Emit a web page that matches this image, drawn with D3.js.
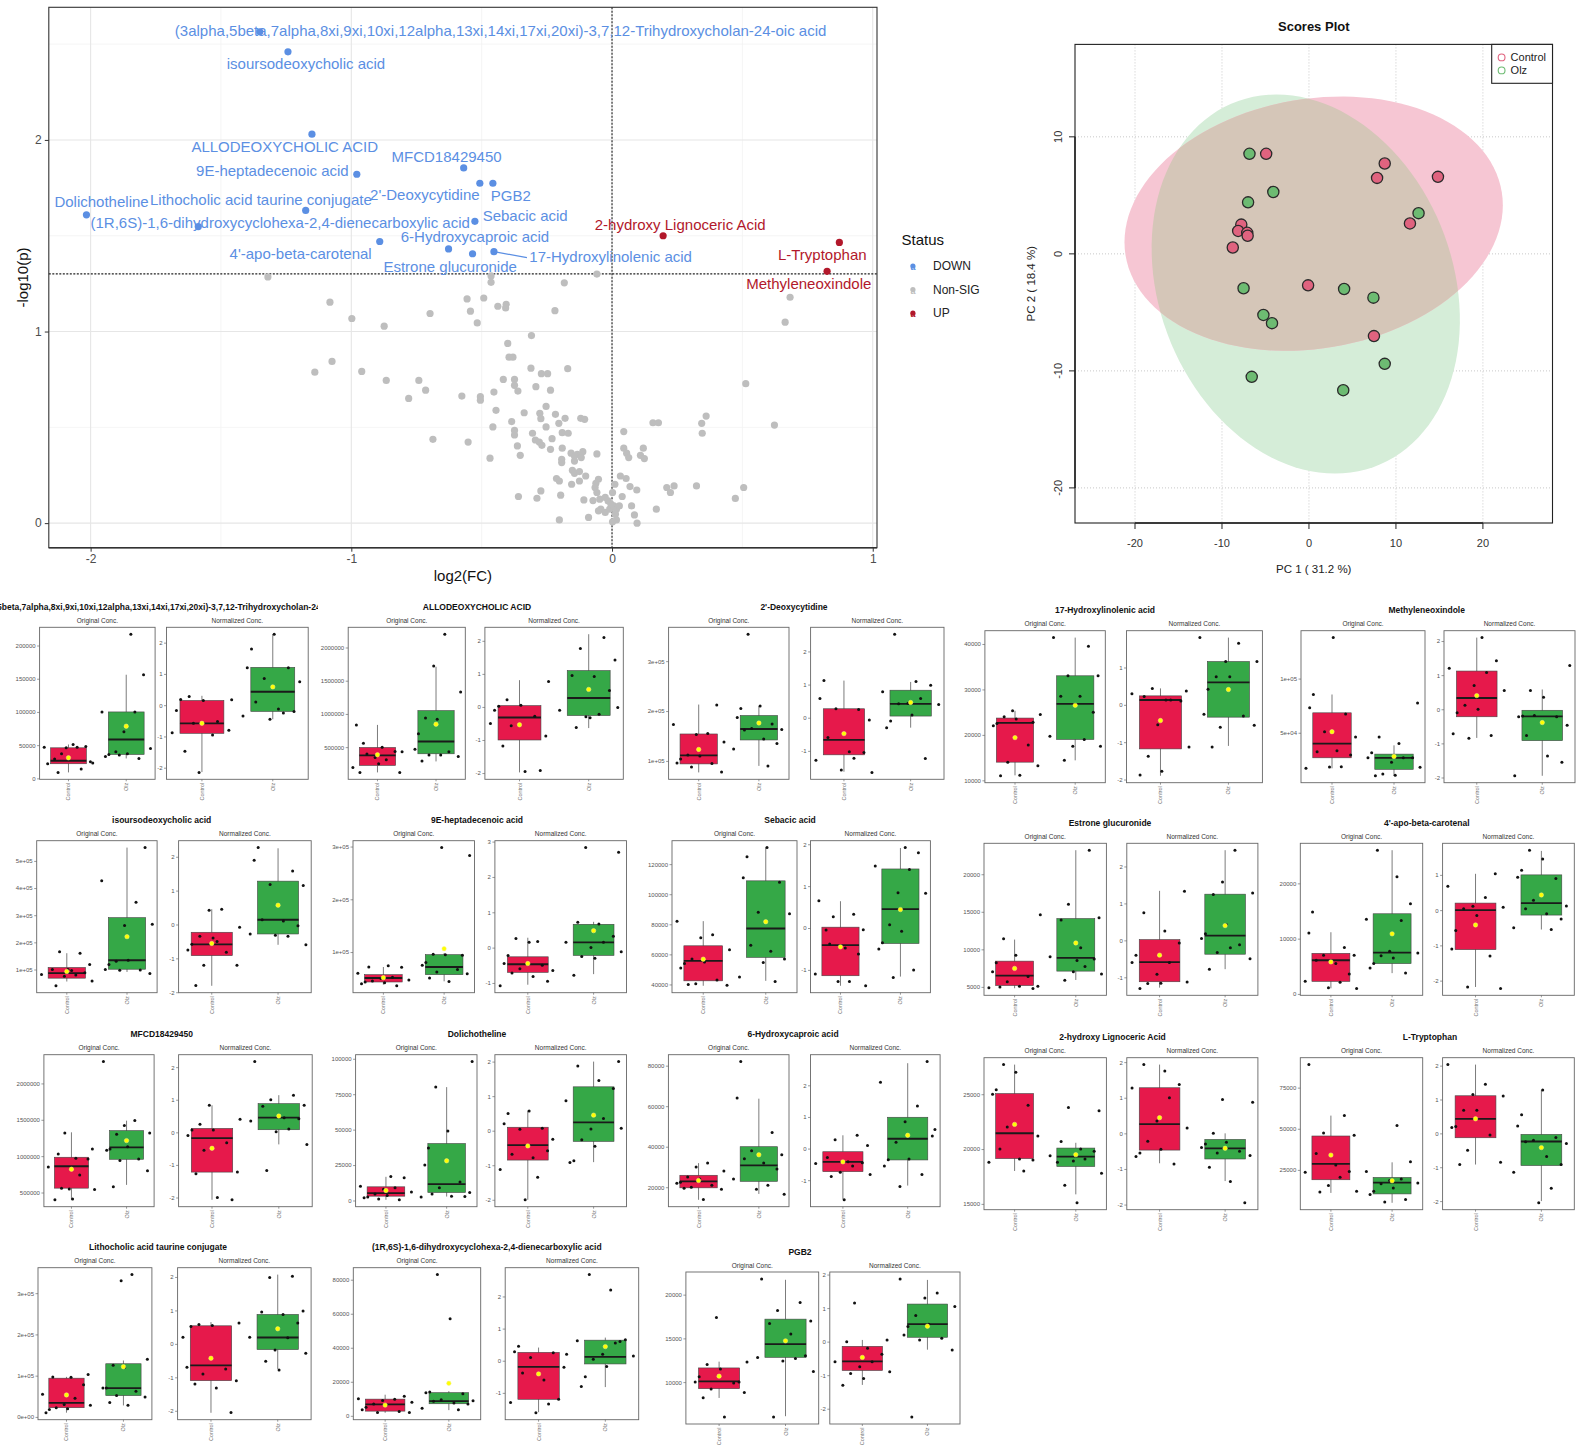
<!DOCTYPE html>
<html>
<head>
<meta charset="utf-8">
<title>Volcano plot, PCA scores and box plots</title>
<script src="https://d3js.org/d3.v7.min.js"></script>
<style>
  body { margin: 0; background: #fff; }
  svg { display: block; font-family: "Liberation Sans", Arial, Helvetica, sans-serif; }
</style>
</head>
<body>
<svg id="fig" width="1586" height="1448"></svg>
<script>
// ---------------- volcano data ----------------
const sigNames = [
  "(3alpha,5beta,7alpha,8xi,9xi,10xi,12alpha,13xi,14xi,17xi,20xi)-3,7,12-Trihydroxycholan-24-oic acid",
  "isoursodeoxycholic acid", "ALLODEOXYCHOLIC ACID", "9E-heptadecenoic acid", "MFCD18429450",
  "2'-Deoxycytidine", "PGB2", "Dolichotheline", "Lithocholic acid taurine conjugate",
  "(1R,6S)-1,6-dihydroxycyclohexa-2,4-dienecarboxylic acid", "Sebacic acid", "4'-apo-beta-carotenal",
  "6-Hydroxycaproic acid", "Estrone glucuronide", "17-Hydroxylinolenic acid",
  "2-hydroxy Lignoceric Acid", "L-Tryptophan", "Methyleneoxindole"];
const sigFC = [-1.351,-1.243,-1.151,-0.979,-0.569,-0.507,-0.457,-2.016,-1.175,-1.587,-0.526,-0.891,-0.627,-0.535,-0.453,0.196,0.872,0.825];
const sigP  = [2.564,2.46,2.03,1.821,1.854,1.774,1.774,1.609,1.632,1.548,1.575,1.470,1.431,1.406,1.417,1.5,1.465,1.314];
const sigStatus = ["DOWN","DOWN","DOWN","DOWN","DOWN","DOWN","DOWN","DOWN","DOWN","DOWN","DOWN","DOWN","DOWN","DOWN","DOWN","UP","UP","UP"];
const nonSig = [
  [-1.32,1.285],[-0.464,1.29],[-0.464,1.257],[-0.183,1.254],[-0.058,1.30],[0.683,1.179],[-1.082,1.153],[-0.556,1.170],
  [-0.492,1.175],[-0.543,1.106],[-0.438,1.132],[-0.406,1.142],[-0.408,1.123],[-0.698,1.094],[-0.219,1.109],[-0.998,1.068],
  [-0.874,1.028],[-0.517,1.045],[0.664,1.049],[-0.309,0.979],[-0.40,0.938],[-0.395,0.866],[-0.38,0.866],[-1.074,0.844],
  [-1.14,0.788],[-0.96,0.792],[-0.866,0.745],[-0.741,0.745],[-0.715,0.694],[-0.78,0.651],[-0.576,0.663],[-0.505,0.66],
  [-0.505,0.642],[-0.453,0.684],[-0.417,0.75],[-0.374,0.75],[-0.374,0.719],[-0.361,0.689],[-0.311,0.809],[-0.271,0.78],
  [-0.247,0.78],[-0.17,0.806],[-0.292,0.712],[-0.236,0.694],[-0.445,0.589],[-0.253,0.609],[-0.337,0.576],[-0.277,0.573],
  [-0.273,0.545],[-0.217,0.568],[-0.18,0.547],[-0.12,0.547],[-0.105,0.542],[-0.385,0.53],[-0.457,0.502],[-0.374,0.484],
  [-0.374,0.46],[-0.253,0.502],[-0.204,0.521],[-0.305,0.469],[-0.191,0.472],[-0.168,0.469],[-0.23,0.441],[-0.294,0.434],
  [-0.279,0.423],[-0.269,0.406],[-0.363,0.403],[-0.236,0.385],[-0.191,0.391],[-0.687,0.4375],[-0.552,0.423],[-0.468,0.339],
  [-0.352,0.354],[-0.157,0.365],[-0.133,0.359],[-0.112,0.373],[-0.193,0.333],[-0.193,0.316],[-0.144,0.35],[-0.144,0.324],
  [-0.118,0.342],[-0.058,0.361],[0.045,0.478],[0.045,0.391],[0.056,0.365],[0.064,0.342],[0.12,0.391],[0.109,0.354],
  [0.124,0.337],[0.157,0.524],[0.178,0.524],[0.344,0.521],[0.361,0.559],[0.346,0.469],[0.513,0.728],[0.623,0.512],
  [-0.152,0.276],[-0.144,0.26],[-0.125,0.269],[-0.101,0.246],[-0.213,0.233],[-0.202,0.22],[-0.155,0.203],[-0.125,0.22],
  [-0.052,0.229],[-0.062,0.208],[-0.065,0.186],[-0.058,0.16],[0.011,0.203],[0.002,0.16],[0.032,0.246],[0.054,0.233],
  [0.069,0.191],[0.095,0.173],[-0.273,0.168],[-0.359,0.139],[-0.288,0.13],[-0.197,0.146],[-0.108,0.121],[-0.073,0.118],
  [-0.047,0.125],[-0.026,0.134],[0.039,0.139],[-0.043,0.073],[-0.052,0.064],[-0.026,0.056],[-0.009,0.073],[0.007,0.09],
  [0.017,0.073],[0.028,0.09],[-0.015,0.116],[-0.004,0.099],[0.075,0.09],[0.086,0.043],[0.013,0.047],[0.017,0.017],
  [0.002,0.007],[-0.09,0.03],[-0.202,0.017],[0.096,0.0],[0.17,0.073],[0.21,0.186],[0.224,0.16],[0.238,0.194],
  [0.324,0.194],[0.505,0.186],[0.473,0.129]];
const statusLevels = ["DOWN", "Non-SIG", "UP"];
const statusColors = {"DOWN": "#5b8fe3", "Non-SIG": "#bebebe", "UP": "#b2182b"};
const volXMajor = [-2, -1, 0, 1], volXMinor = [-1.5, -0.5, 0.5];
const volYMajor = [0, 1, 2], volYMinor = [0.5, 1.5, 2.5];
const pThreshold = 0.05;

// label offsets from their point, in pixels (layout only)
const labelOffsets = [[240.8,-1.7],[18,11.6],[-27.2,12.4],[-84.4,-3.6],[-17.1,-11.3],[-55,11.7],[17.9,12.4],[15.1,-13.3],
  [-44.8,-10.7],[81.9,-4],[50.3,-5.7],[-79.1,11.6],[26.4,-12],[-22.4,12.7],[116.7,5.3],[17.1,-11],[-17.1,12.3],[-18.3,12.3]];

// ---------------- PCA data ----------------
const pcaCtrlX = [-4.92,8.71,7.83,14.83,11.61,-7.78,-8.14,-7.1,-7.05,-8.76,-0.10,7.47];
const pcaCtrlY = [8.55,7.72,6.49,6.58,2.6,2.5,1.96,1.8,1.55,0.54,-2.69,-7.03];
const pcaOlzX = [-6.84,-4.10,-7.0,12.6,-7.52,4.04,7.41,-5.24,-4.25,8.71,-6.58,3.94];
const pcaOlzY = [8.55,5.29,4.40,3.48,-2.94,-3.0,-3.74,-5.22,-5.92,-9.40,-10.51,-11.65];
// ellipse: centre x, centre y, then two conjugate semi-diameters (dx1, dy1, dx2, dy2)
const ctrlEllipse = [0.54, 2.58, 21.75, 1.58, 0, 10.75];
const olzEllipse = [-0.37, -2.58, -3.36, 16.2, 17.4, 0];
const pcaXLim = [-26.9, 28.0], pcaYLim = [-23.0, 17.9];
const pcaXTicks = [-20, -10, 0, 10, 20], pcaYTicks = [-20, -10, 0, 10];

// ---------------- box plot data ----------------
const groups = ["Control", "Olz"];
const compounds = [
  "(3alpha,5beta,7alpha,8xi,9xi,10xi,12alpha,13xi,14xi,17xi,20xi)-3,7,12-Trihydroxycholan-24-oic acid",
  "ALLODEOXYCHOLIC ACID", "2'-Deoxycytidine", "17-Hydroxylinolenic acid", "Methyleneoxindole",
  "isoursodeoxycholic acid", "9E-heptadecenoic acid", "Sebacic acid", "Estrone glucuronide", "4'-apo-beta-carotenal",
  "MFCD18429450", "Dolichotheline", "6-Hydroxycaproic acid", "2-hydroxy Lignoceric Acid", "L-Tryptophan",
  "Lithocholic acid taurine conjugate", "(1R,6S)-1,6-dihydroxycyclohexa-2,4-dienecarboxylic acid", "PGB2"];
const origTicks = [
  ["0","50000","100000","150000","200000"], ["500000","1000000","1500000","2000000"], ["1e+05","2e+05","3e+05"],
  ["10000","20000","30000","40000"], ["5e+04","1e+05"], ["1e+05","2e+05","3e+05","4e+05","5e+05"],
  ["1e+05","2e+05","3e+05"], ["40000","60000","80000","100000","120000"], ["5000","10000","15000","20000"],
  ["0","10000","20000"], ["500000","1000000","1500000","2000000"], ["0","25000","50000","75000","100000"],
  ["20000","40000","60000","80000"], ["15000","20000","25000"], ["25000","50000","75000"],
  ["0e+00","1e+05","2e+05","3e+05"], ["0","20000","40000","60000","80000"], ["10000","15000","20000"]];
const normTicks = [
  ["-2","-1","0","1","2"], ["-2","-1","0","1","2"], ["-1","0","1","2"], ["-2","-1","0","1"], ["-2","-1","0","1","2"],
  ["-2","-1","0","1","2"], ["-1","0","1","2","3"], ["-1","0","1","2"], ["-1","0","1","2"], ["-2","-1","0","1"],
  ["-2","-1","0","1","2"], ["-2","-1","0","1","2"], ["-1","0","1","2"], ["-2","-1","0","1","2"], ["-2","-1","0","1","2"],
  ["-2","-1","0","1","2"], ["-1","0","1","2"], ["-2","-1","0","1","2"]];
// [lower whisker, q1, median, q3, upper whisker, mean]
const origCtl = [
  [9000,22000,26500,46000,51000,31000], [120000,225000,375000,495000,835000,385000], [77000,94000,111000,154000,213000,123000],
  [11100,14000,22650,23700,25300,19400], [17200,26900,40000,68400,85300,51000], [55800,68100,86500,107400,160000,92600],
  [38200,43200,50800,57100,71600,51400], [39100,42400,55700,65700,82100,56800], [4820,5180,6500,8430,11300,7460],
  [1015,2270,6090,7340,11160,5790], [400000,560000,861000,985000,1328000,820000], [500,3060,5180,9650,16700,7060],
  [13800,19700,22900,25900,31900,23300], [18000,19130,21440,25060,27700,22250], [11000,19000,28600,45600,58000,34000],
  [10300,22300,34200,93900,97100,53300], [1770,2750,6700,9800,12400,6300], [8190,9250,10080,11620,12340,10680]];
const origOlz = [
  [30000,36000,58500,100000,156000,78500], [285000,400000,585000,1050000,1710000,845000], [90000,142000,164000,191000,210000,176000],
  [14400,19000,26800,33000,41400,26500], [10300,16250,26900,30300,38400,28100], [91000,101000,134000,291000,549000,221000],
  [44500,57100,71600,95000,98000,106300], [42400,58000,77200,108900,131000,81700], [5920,7100,8870,14100,23200,10850],
  [3760,5490,7460,14500,26000,10870], [605000,957000,1122000,1351000,1488000,1214000], [2800,5650,11500,40200,80000,28000],
  [16700,22900,30800,40000,63700,36000], [15870,18410,19310,20090,20570,19490], [5000,10400,17200,20400,29600,18400],
  [27800,51700,70000,128900,136800,121700], [3340,7080,8650,13600,14500,19100], [6100,12830,14340,17200,21700,14720]];
const normCtl = [
  [-2.14,-0.9,-0.585,0.15,0.3,-0.58], [-1.98,-1.0,-0.32,0.04,0.81,-0.54], [-1.63,-1.12,-0.67,0.27,1.12,-0.48],
  [-1.9,-1.18,0.13,0.24,0.44,-0.42], [-0.84,-0.22,0.33,1.12,2.1,0.4], [-1.81,-0.92,-0.59,-0.23,0.45,-0.56],
  [-1.05,-0.7,-0.47,-0.26,0.28,-0.45], [-1.38,-1.14,-0.41,0.02,0.64,-0.45], [-1.28,-1.12,-0.59,0.02,1.34,-0.4],
  [-2.18,-1.12,0.0,0.2,1.03,-0.42], [-2.07,-1.22,-0.18,0.12,0.83,-0.49], [-2.0,-0.85,-0.42,0.1,0.58,-0.44],
  [-1.61,-0.73,-0.42,-0.1,0.42,-0.42], [-0.84,-0.47,0.26,1.28,1.93,0.44], [-0.92,-0.13,0.43,1.11,2.03,0.43],
  [-2.06,-1.1,-0.64,0.54,0.65,-0.43], [-1.6,-1.2,-0.19,0.26,0.41,-0.41], [-1.29,-0.86,-0.59,-0.14,0.05,-0.47]];
const normOlz = [
  [-0.45,-0.2,0.43,1.21,2.27,0.585], [-0.64,-0.26,0.27,1.1,2.2,0.53], [-0.3,0.05,0.42,0.83,1.08,0.46],
  [-1.1,-0.33,0.6,1.16,1.8,0.41], [-1.95,-0.92,-0.21,-0.03,0.58,-0.39], [-0.6,-0.28,0.14,1.28,2.25,0.57],
  [-0.75,-0.22,0.15,0.66,0.73,0.48], [-1.16,-0.37,0.45,1.41,1.91,0.44], [-0.78,-0.375,0.13,1.25,2.44,0.4],
  [-0.55,-0.14,0.2,1.0,1.68,0.43], [-0.37,0.08,0.45,0.88,1.14,0.5], [-0.91,-0.31,0.24,1.27,2.0,0.45],
  [-1.17,-0.36,0.31,0.99,2.7,0.42], [-1.34,-0.72,-0.42,-0.17,0.0,-0.42], [-2.0,-0.95,-0.24,-0.03,1.28,-0.42],
  [-0.75,-0.17,0.19,0.88,2.07,0.45], [-0.82,-0.1,0.12,0.64,0.72,0.44], [-0.24,0.13,0.52,1.12,1.84,0.46]];
const origCtlPts = [
  [22000,14000,37000,25000,29000,51000,48000,47000,47000,46000,23000,9000],
  [120000,560000,500000,435000,195000,310000,345000,430000,395000,250000,120000,835000],
  [212000,173000,155000,153000,138000,112000,110000,104000,96000,95000,88000,78000],
  [25300,24500,24000,23500,22500,22000,17800,14000,13200,11000,11100,22800],
  [137800,85300,73100,67200,51000,46000,32500,33500,29400,17200,18700,18500],
  [160000,165000,118000,100000,96000,88000,82000,80000,75000,58000,40000,100000],
  [71600,74000,71000,60000,52000,50000,47000,45000,42000,43000,40000,36000],
  [82000,73000,71000,63000,57000,55000,54000,51000,43000,40500,39500,40000],
  [14600,11400,9200,8200,7000,6400,5700,5100,5000,5100,4800,4900],
  [14800,11000,8400,7000,7000,6100,5500,3600,2300,2100,1100,1000],
  [1320000,1100000,1030000,970000,960000,850000,740000,550000,540000,560000,410000,400000],
  [17000,16000,10000,9000,8000,6000,4500,3500,2500,2000,500,1000],
  [32000,30000,28000,25000,24000,22500,22000,21000,20000,19000,19500,14000],
  [27700,27000,25400,25000,24000,22000,21200,20000,19100,19000,18800,18000],
  [89000,58000,47500,46000,35000,28000,24000,23500,20500,15500,12000,11500],
  [103000,97000,96000,78000,55000,45000,30000,28000,22000,20000,18000,10000],
  [11500,10000,9800,9000,8000,7000,6500,5000,3500,2500,2000,2000],
  [17400,12300,12000,11500,10600,10000,9900,9200,8800,8200,6000,10000]];
const origOlzPts = [
  [217000,156000,100000,100000,70000,45000,40000,37000,36000,33000,30000,35000],
  [2200000,1720000,1330000,940000,920000,700000,470000,430000,380000,360000,290000,380000],
  [354000,210000,205000,187000,174000,165000,163000,162000,144000,135000,124000,90000],
  [41400,39500,33000,33000,28500,28500,25000,19700,19000,17500,17500,14400],
  [77500,46000,40000,26900,26900,26900,22800,18100,11900,10900,10300,31600],
  [549000,427000,348000,262000,267000,130000,134000,118000,100000,98000,97000,85000],
  [298000,283000,96000,95000,80000,75000,67000,62000,59000,51000,44000,94000],
  [131000,125000,111000,108000,88000,87000,66000,62000,57000,45000,42000,54600],
  [23200,16000,14200,13900,10200,8700,9000,7700,7000,6700,5900,8500],
  [26000,21200,16300,13500,13300,7700,7400,6900,6500,5500,4700,3800],
  [2300000,1490000,1420000,1320000,1300000,1130000,1100000,1080000,960000,940000,800000,580000],
  [98000,80000,49000,37000,25000,13000,9000,5700,4500,3000,2800,2500],
  [82000,64000,47000,38000,36000,34000,32000,29000,24000,21000,19000,16500],
  [23800,23500,20700,20000,19800,19400,19100,18900,17800,16700,15100,18800],
  [52000,30000,24000,19500,18500,17000,16500,14000,12000,10000,7000,5500],
  [345000,330000,140000,125000,120000,70000,70000,62000,52000,48000,35000,28000],
  [83000,57000,14000,13500,13000,9500,8800,8500,7500,7000,4500,3500],
  [21800,19100,18200,17000,16700,15500,13000,12800,12700,12400,11200,6000]];
const normCtlPts = [
  [-0.88,-0.95,-2.15,0.17,0.28,0.15,0.18,-0.17,-0.52,-0.58,-0.8,-1.47],
  [0.77,0.22,0.05,0.02,-0.1,-0.28,-0.57,-0.88,-1.18,-1.95,-1.92,-0.5],
  [1.12,0.58,0.25,0.27,-0.07,-0.6,-1.03,-1.05,-1.28,-1.22,-1.58,-1.65],
  [0.44,0.37,0.22,0.13,0.1,0.3,0.13,-0.53,-1.13,-1.38,-1.78,-1.88],
  [2.1,1.42,1.2,1.08,0.7,0.55,0.12,0.0,-0.1,-0.72,-0.77,-0.85],
  [0.45,0.42,-0.08,-0.35,-0.4,-0.58,-0.75,-0.82,-1.2,-1.2,-1.8,-0.5],
  [0.26,0.15,-0.22,-0.45,-0.5,-0.6,-0.65,-0.72,-0.82,-0.95,-1.08,0.17],
  [0.65,0.33,0.27,-0.04,-0.05,-0.48,-0.62,-1.1,-1.28,-1.28,-1.38,-0.38],
  [1.33,0.75,0.25,-0.07,-0.6,-0.6,-0.92,-1.13,-1.17,-1.16,-1.3,-0.4],
  [1.03,0.68,0.36,0.11,0.08,0.04,-0.15,-0.58,-1.1,-1.3,-2.18,-2.22],
  [0.83,0.4,0.25,0.07,0.07,-0.1,-0.32,-0.55,-1.22,-1.27,-2.0,-2.07],
  [0.57,0.5,0.2,0.07,0.04,-0.25,-0.68,-0.78,-0.58,-1.12,-1.35,-2.0],
  [0.42,0.28,0.1,-0.28,-0.42,-0.45,-0.47,-0.55,-0.75,-0.82,-0.88,-1.62],
  [1.93,1.75,1.37,1.27,1.0,0.35,0.15,-0.22,-0.45,-0.55,-0.65,-0.86],
  [2.03,1.45,1.15,1.1,0.68,0.68,0.2,0.17,-0.05,-0.5,-0.85,-0.92],
  [0.62,0.58,0.55,0.52,-0.7,-0.75,-0.9,-1.1,-1.2,-1.32,-2.05,0.2],
  [0.45,0.28,0.25,0.1,-0.2,-0.38,-0.6,-1.2,-1.3,-1.35,-1.62,0.2],
  [1.15,0.05,0.0,-0.2,-0.38,-0.6,-0.6,-0.75,-0.9,-0.95,-1.1,-1.3]];
const normOlzPts = [
  [2.27,1.8,1.2,1.2,0.85,0.75,0.1,-0.12,-0.2,-0.35,-0.25,-0.45],
  [2.1,1.77,1.42,0.95,0.92,0.5,-0.1,-0.22,-0.3,-0.02,-0.62,-0.33],
  [2.52,1.09,0.98,0.78,0.58,0.44,0.4,0.42,0.08,-0.1,-0.3,-1.23],
  [1.8,1.65,1.16,1.16,0.75,0.75,0.42,-0.25,-0.3,-0.6,-0.55,-1.13],
  [1.28,0.55,0.35,-0.2,-0.22,-0.22,-0.18,-0.47,-0.77,-1.37,-1.55,-1.95],
  [2.27,1.9,1.58,1.18,1.15,0.14,0.1,-0.04,-0.28,-0.35,-0.32,-0.6],
  [2.83,2.7,0.72,0.67,0.32,0.15,0.15,0.0,-0.12,-0.25,-0.3,-0.78],
  [1.92,1.8,1.48,1.4,0.84,0.83,0.08,-0.08,-0.35,-0.5,-1.0,-1.18],
  [2.44,1.58,1.28,1.24,0.42,0.18,0.05,-0.12,-0.33,-0.5,-0.78,-0.2],
  [1.7,1.45,1.13,0.93,0.9,0.28,0.12,0.04,-0.1,-0.25,-0.5,-0.55],
  [2.17,1.14,1.0,0.83,0.8,0.45,0.42,0.35,0.1,0.02,-0.37,-1.17],
  [2.0,1.87,1.45,1.22,0.87,0.35,0.05,0.07,-0.26,-0.45,-0.87,-0.92],
  [2.75,2.1,1.35,0.85,0.6,0.2,-0.33,-0.35,-0.55,-0.82,-1.2,0.4],
  [0.95,0.87,0.0,-0.25,-0.3,-0.4,-0.5,-0.55,-0.62,-0.95,-1.35,-1.95],
  [1.28,0.55,0.22,-0.12,-0.2,-0.3,-0.25,-0.68,-0.92,-1.15,-1.62,-2.05],
  [2.02,1.98,0.98,0.95,0.88,0.62,0.2,0.18,-0.18,-0.28,-0.52,-0.78],
  [2.68,2.2,0.65,0.62,0.55,0.2,0.15,0.05,-0.18,-0.5,-0.8,0.6],
  [1.87,1.45,1.3,1.05,0.78,0.52,0.45,0.2,0.1,0.05,-0.25,-2.25]];

// box plot layout: [panel1 left, panel1 right, panel2 left, panel2 right, panel top, title centre x]
const boxLayout = [
  [39.6,155.1,166.5,308.2,627.3,160], [348.2,465.3,484.9,623.3,627.3,477], [668.6,789,810.6,944,627.3,794],
  [984.9,1105.3,1126.5,1262.4,630.7,1105], [1301,1425,1444,1575,630.7,1426.7],
  [36.7,157.1,178.6,311.2,840.7,161.7], [353,474.5,494.9,626.5,840.7,477], [672,797,810.5,930.4,840.7,790],
  [984,1106.4,1126.8,1257.9,843.3,1110], [1300.3,1422.7,1442.6,1574.3,843.3,1426.8],
  [43.9,154.1,178.6,312.2,1054.7,161.7], [355.6,477,494.9,626.5,1054.7,477], [668.4,789,810.5,940.1,1054.7,793],
  [984,1106.4,1126.8,1257.9,1057.7,1112.5], [1300.3,1422.7,1442.6,1574.3,1057.7,1430],
  [38,151.9,177.6,311.1,1267.7,158], [353.3,480.7,505.2,638.7,1267.7,486.8], [685.9,818.7,829.8,960,1272,800]];
const panelHeight = 152;
const jitterOffsets = [-0.36, 0.22, -0.12, 0.38, -0.24, 0.08, 0.3, -0.42, 0.15, -0.04, 0.42, -0.18, 0.02, -0.3];

const svg = d3.select("#fig");
const FONT = '"Liberation Sans", Arial, Helvetica, sans-serif';
const pad = (ext, f) => [ext[0] - f * (ext[1] - ext[0]), ext[1] + f * (ext[1] - ext[0])];

svg.append("rect").attr("width", 1586).attr("height", 1448).attr("fill", "#fff");

// ================= volcano plot =================
const V = {l: 48.8, r: 877, t: 7.3, b: 547.7};
const vx = d3.scaleLinear()
  .domain(pad(d3.extent(sigFC.concat(nonSig.map(d => d[0]))), 0.05)).range([V.l, V.r]);
const vy = d3.scaleLinear()
  .domain(pad(d3.extent(sigP.concat(nonSig.map(d => d[1]))), 0.05)).range([V.b, V.t]);
const volc = svg.append("g");

volc.append("rect").attr("x", V.l).attr("y", V.t).attr("width", V.r - V.l).attr("height", V.b - V.t).attr("fill", "#fff");
volc.selectAll("line.xminor").data(volXMinor).join("line")
  .attr("x1", d => vx(d)).attr("x2", d => vx(d)).attr("y1", V.t).attr("y2", V.b)
  .attr("stroke", "#f2f2f2").attr("stroke-width", 0.8);
volc.selectAll("line.yminor").data(volYMinor).join("line")
  .attr("y1", d => vy(d)).attr("y2", d => vy(d)).attr("x1", V.l).attr("x2", V.r)
  .attr("stroke", "#f2f2f2").attr("stroke-width", 0.8);
volc.selectAll("line.xmajor").data(volXMajor).join("line")
  .attr("x1", d => vx(d)).attr("x2", d => vx(d)).attr("y1", V.t).attr("y2", V.b)
  .attr("stroke", "#e6e6e6").attr("stroke-width", 1.1);
volc.selectAll("line.ymajor").data(volYMajor).join("line")
  .attr("y1", d => vy(d)).attr("y2", d => vy(d)).attr("x1", V.l).attr("x2", V.r)
  .attr("stroke", "#e6e6e6").attr("stroke-width", 1.1);

// threshold lines
volc.append("line").attr("x1", V.l).attr("x2", V.r)
  .attr("y1", vy(-Math.log10(pThreshold))).attr("y2", vy(-Math.log10(pThreshold)))
  .attr("stroke", "#222").attr("stroke-width", 1.1).attr("stroke-dasharray", "2,1.5");
volc.append("line").attr("x1", vx(0)).attr("x2", vx(0)).attr("y1", V.t).attr("y2", V.b)
  .attr("stroke", "#222").attr("stroke-width", 1.1).attr("stroke-dasharray", "2,1.5");

// points
volc.selectAll("circle.ns").data(nonSig).join("circle")
  .attr("cx", d => vx(d[0])).attr("cy", d => vy(d[1])).attr("r", 3.6)
  .attr("fill", statusColors["Non-SIG"]);
volc.selectAll("circle.sig").data(sigNames).join("circle")
  .attr("cx", (d, i) => vx(sigFC[i])).attr("cy", (d, i) => vy(sigP[i])).attr("r", 3.6)
  .attr("fill", (d, i) => statusColors[sigStatus[i]]);

// repelled labels
const seg = 14;
volc.append("line")
  .attr("x1", vx(sigFC[seg])).attr("y1", vy(sigP[seg]))
  .attr("x2", vx(sigFC[seg]) + 33).attr("y2", vy(sigP[seg]) + 6)
  .attr("stroke", statusColors.DOWN).attr("stroke-width", 1.3);
volc.selectAll("text.lab").data(sigNames).join("text")
  .attr("x", (d, i) => vx(sigFC[i]) + labelOffsets[i][0])
  .attr("y", (d, i) => vy(sigP[i]) + labelOffsets[i][1])
  .attr("text-anchor", "middle").attr("dominant-baseline", "central")
  .attr("font-size", 15).attr("fill", (d, i) => statusColors[sigStatus[i]])
  .text(d => d);

// panel border
volc.append("rect").attr("x", V.l).attr("y", V.t).attr("width", V.r - V.l).attr("height", V.b - V.t)
  .attr("fill", "none").attr("stroke", "#333").attr("stroke-width", 1.1);

// axes
const vLeft = volc.append("g").attr("transform", `translate(${V.l},0)`)
  .call(d3.axisLeft(vy).tickValues(volYMajor).tickFormat(d => String(d)).tickSize(4).tickPadding(3));
const vBottom = volc.append("g").attr("transform", `translate(0,${V.b})`)
  .call(d3.axisBottom(vx).tickValues(volXMajor).tickFormat(d => String(d)).tickSize(4).tickPadding(3));
[vLeft, vBottom].forEach(a => {
  a.attr("font-family", FONT);
  a.select(".domain").remove();
  a.selectAll("line").attr("stroke", "#333");
  a.selectAll("text").attr("font-size", 12).attr("fill", "#4d4d4d");
});
volc.append("line").attr("x1", V.l).attr("x2", V.r).attr("y1", V.b).attr("y2", V.b)
  .attr("stroke", "#333").attr("stroke-width", 1.6);
volc.append("text").attr("x", (V.l + V.r) / 2).attr("y", 575).attr("text-anchor", "middle")
  .attr("dominant-baseline", "central").attr("font-size", 15).attr("fill", "#111").text("log2(FC)");
volc.append("text").attr("transform", `translate(22,${(V.t + V.b) / 2}) rotate(-90)`)
  .attr("text-anchor", "middle").attr("dominant-baseline", "central")
  .attr("font-size", 15).attr("fill", "#111").text("-log10(p)");

// legend
const leg = svg.append("g");
leg.append("text").attr("x", 901.6).attr("y", 239).attr("dominant-baseline", "central")
  .attr("font-size", 15).attr("fill", "#111").text("Status");
statusLevels.forEach((s, i) => {
  const yy = 266 + i * 23.6;
  leg.append("circle").attr("cx", 912.9).attr("cy", yy).attr("r", 2.6).attr("fill", statusColors[s]);
  leg.append("text").attr("x", 912.9).attr("y", yy + 1).attr("text-anchor", "middle")
    .attr("dominant-baseline", "central").attr("font-size", 9).attr("font-weight", "bold")
    .attr("fill", statusColors[s]).text("a");
  leg.append("text").attr("x", 933).attr("y", yy).attr("dominant-baseline", "central")
    .attr("font-size", 12).attr("fill", "#222").text(s);
});

// ================= PCA scores plot =================
const P = {l: 1075, r: 1552.5, t: 44.4, b: 523};
const px = d3.scaleLinear().domain(pcaXLim).range([P.l, P.r]);
const py = d3.scaleLinear().domain(pcaYLim).range([P.b, P.t]);
const pca = svg.append("g");

pca.selectAll("line.gx").data(pcaXTicks).join("line")
  .attr("x1", d => px(d)).attr("x2", d => px(d)).attr("y1", P.t).attr("y2", P.b)
  .attr("stroke", "#c8c8c8").attr("stroke-dasharray", "1,2");
pca.selectAll("line.gy").data(pcaYTicks).join("line")
  .attr("y1", d => py(d)).attr("y2", d => py(d)).attr("x1", P.l).attr("x2", P.r)
  .attr("stroke", "#c8c8c8").attr("stroke-dasharray", "1,2");

const ellipsePoints = e => d3.range(0, 360, 3).map(a => {
  const t = a * Math.PI / 180;
  return [e[0] + e[2] * Math.cos(t) + e[4] * Math.sin(t), e[1] + e[3] * Math.cos(t) + e[5] * Math.sin(t)];
});
const ellLine = d3.line().x(d => px(d[0])).y(d => py(d[1])).curve(d3.curveLinearClosed);
pca.append("clipPath").attr("id", "olzClip").append("path").attr("d", ellLine(ellipsePoints(olzEllipse)));
pca.append("path").attr("d", ellLine(ellipsePoints(olzEllipse))).attr("fill", "#d5edd8");
pca.append("path").attr("d", ellLine(ellipsePoints(ctrlEllipse))).attr("fill", "#f6c6d3");
pca.append("path").attr("d", ellLine(ellipsePoints(ctrlEllipse))).attr("fill", "#d5c6b8")
  .attr("clip-path", "url(#olzClip)");

const pcaPts = pcaCtrlX.map((x, i) => ({x, y: pcaCtrlY[i], g: "Control"}))
  .concat(pcaOlzX.map((x, i) => ({x, y: pcaOlzY[i], g: "Olz"})));
const pcaFill = {"Control": "#e0637f", "Olz": "#6dbb72"};
pca.selectAll("circle.sc").data(pcaPts).join("circle")
  .attr("cx", d => px(d.x)).attr("cy", d => py(d.y)).attr("r", 5.6)
  .attr("fill", d => pcaFill[d.g]).attr("stroke", "#2a2a2a").attr("stroke-width", 1.3);

pca.append("rect").attr("x", P.l).attr("y", P.t).attr("width", P.r - P.l).attr("height", P.b - P.t)
  .attr("fill", "none").attr("stroke", "#222").attr("stroke-width", 1.1);
// axes (R base style)
pca.append("line").attr("x1", px(pcaXTicks[0])).attr("x2", px(pcaXTicks[pcaXTicks.length - 1]))
  .attr("y1", P.b).attr("y2", P.b).attr("stroke", "#222").attr("stroke-width", 1.5);
pca.append("line").attr("y1", py(pcaYTicks[0])).attr("y2", py(pcaYTicks[pcaYTicks.length - 1]))
  .attr("x1", P.l).attr("x2", P.l).attr("stroke", "#222").attr("stroke-width", 1.5);
pcaXTicks.forEach(t => {
  pca.append("line").attr("x1", px(t)).attr("x2", px(t)).attr("y1", P.b).attr("y2", P.b + 6).attr("stroke", "#222");
  pca.append("text").attr("x", px(t)).attr("y", 543.3).attr("text-anchor", "middle").attr("dominant-baseline", "central")
    .attr("font-size", 11).attr("fill", "#333").text(t);
});
pcaYTicks.forEach(t => {
  pca.append("line").attr("y1", py(t)).attr("y2", py(t)).attr("x1", P.l - 6).attr("x2", P.l).attr("stroke", "#222");
  pca.append("text").attr("transform", `translate(1058,${py(t)}) rotate(-90)`).attr("text-anchor", "middle")
    .attr("dominant-baseline", "central").attr("font-size", 11).attr("fill", "#333").text(t);
});
pca.append("text").attr("x", (P.l + P.r) / 2).attr("y", 26).attr("text-anchor", "middle")
  .attr("dominant-baseline", "central").attr("font-size", 13).attr("font-weight", "bold").attr("fill", "#111")
  .text("Scores Plot");
pca.append("text").attr("x", (P.l + P.r) / 2).attr("y", 568.5).attr("text-anchor", "middle")
  .attr("dominant-baseline", "central").attr("font-size", 11.5).attr("fill", "#222").text("PC 1 ( 31.2 %)");
pca.append("text").attr("transform", `translate(1031,${(P.t + P.b) / 2}) rotate(-90)`).attr("text-anchor", "middle")
  .attr("dominant-baseline", "central").attr("font-size", 11.5).attr("fill", "#222").text("PC 2 ( 18.4 %)");
// legend
const pl = pca.append("g");
pl.append("rect").attr("x", 1491.7).attr("y", P.t).attr("width", P.r - 1491.7).attr("height", 38.9)
  .attr("fill", "#fff").attr("stroke", "#222").attr("stroke-width", 1.1);
groups.forEach((g, i) => {
  pl.append("circle").attr("cx", 1501.6).attr("cy", 57.4 + i * 13).attr("r", 3.4)
    .attr("fill", "none").attr("stroke", pcaFill[g]).attr("stroke-width", 1.1);
  pl.append("text").attr("x", 1510.6).attr("y", 57.4 + i * 13).attr("dominant-baseline", "central")
    .attr("font-size", 11).attr("fill", "#222").text(g);
});

// ================= box plots =================
const boxFill = {"Control": "#e6194b", "Olz": "#35a847"};
const boxes = svg.append("g");
const defs = svg.append("defs");
defs.append("clipPath").attr("id", "clipFirstTitle").append("rect").attr("x", 0).attr("y", 590).attr("width", 318).attr("height", 30);

function drawPanel(g, x0, x1, top, ticks, ctl, olz, ctlPts, olzPts, seed, facet) {
  const bottom = top + panelHeight;
  const vals = ctlPts.concat(olzPts, ctl, olz);
  const y = d3.scaleLinear().domain(pad(d3.extent(vals), 0.05)).range([bottom, top]);
  const x = d3.scalePoint().domain(groups).range([x0, x1]).padding(0.5);
  const step = x.step(), bw = step * 0.62;

  g.append("rect").attr("x", x0).attr("y", top).attr("width", x1 - x0).attr("height", bottom - top)
    .attr("fill", "#fff");
  g.append("text").attr("x", (x0 + x1) / 2).attr("y", top - 7).attr("text-anchor", "middle")
    .attr("dominant-baseline", "central").attr("font-size", 6.5).attr("fill", "#333").text(facet);

  const dom = y.domain();
  const tv = ticks.filter(t => +t >= dom[0] && +t <= dom[1]);
  const ax = g.append("g").attr("transform", `translate(${x0},0)`)
    .call(d3.axisLeft(y).tickValues(tv.map(Number)).tickFormat((d, i) => tv[i]).tickSize(2.5).tickPadding(1.5));
  ax.attr("font-family", FONT);
  ax.select(".domain").remove();
  ax.selectAll("line").attr("stroke", "#555").attr("stroke-width", 0.6);
  ax.selectAll("text").attr("font-size", 6).attr("fill", "#555");

  [[ctl, ctlPts, "Control"], [olz, olzPts, "Olz"]].forEach(([s, pts, name], gi) => {
    const cx = x(name);
    g.append("line").attr("x1", cx).attr("x2", cx).attr("y1", y(s[0])).attr("y2", y(s[4]))
      .attr("stroke", "#444").attr("stroke-width", 0.7);
    g.append("rect").attr("x", cx - bw / 2).attr("width", bw).attr("y", y(s[3])).attr("height", y(s[1]) - y(s[3]))
      .attr("fill", boxFill[name]).attr("stroke", "#444").attr("stroke-width", 0.6);
    g.append("line").attr("x1", cx - bw / 2).attr("x2", cx + bw / 2).attr("y1", y(s[2])).attr("y2", y(s[2]))
      .attr("stroke", "#1a1a1a").attr("stroke-width", 1.8);
    g.selectAll(null).data(pts).join("circle")
      .attr("cx", (d, i) => cx + step * jitterOffsets[(i + seed + gi * 5) % jitterOffsets.length])
      .attr("cy", d => y(d)).attr("r", 1.5).attr("fill", "#111");
    g.append("circle").attr("cx", cx).attr("cy", y(s[5])).attr("r", 2.2)
      .attr("fill", "#ffff00").attr("stroke", "#f3f08a").attr("stroke-width", 0.5);
    g.append("line").attr("x1", cx).attr("x2", cx).attr("y1", bottom).attr("y2", bottom + 2)
      .attr("stroke", "#555").attr("stroke-width", 0.6);
    g.append("text").attr("transform", `translate(${cx},${bottom + 3.5}) rotate(-90)`)
      .attr("text-anchor", "end").attr("dominant-baseline", "central")
      .attr("font-size", 5.5).attr("fill", "#777").text(name);
  });

  g.append("rect").attr("x", x0).attr("y", top).attr("width", x1 - x0).attr("height", bottom - top)
    .attr("fill", "none").attr("stroke", "#666").attr("stroke-width", 0.9);
}

compounds.forEach((name, i) => {
  const lay = boxLayout[i];
  const g = boxes.append("g");
  const title = g.append("text").attr("x", lay[5]).attr("y", lay[4] - 20.5)
    .attr("text-anchor", "middle").attr("dominant-baseline", "central")
    .attr("font-size", 8.5).attr("font-weight", "bold").attr("fill", "#111").text(name);
  if (i === 0) title.attr("clip-path", "url(#clipFirstTitle)");
  drawPanel(g, lay[0], lay[1], lay[4], origTicks[i], origCtl[i], origOlz[i], origCtlPts[i], origOlzPts[i], i * 3, "Original Conc.");
  drawPanel(g, lay[2], lay[3], lay[4], normTicks[i], normCtl[i], normOlz[i], normCtlPts[i], normOlzPts[i], i * 3 + 7, "Normalized Conc.");
});
</script>
</body>
</html>
